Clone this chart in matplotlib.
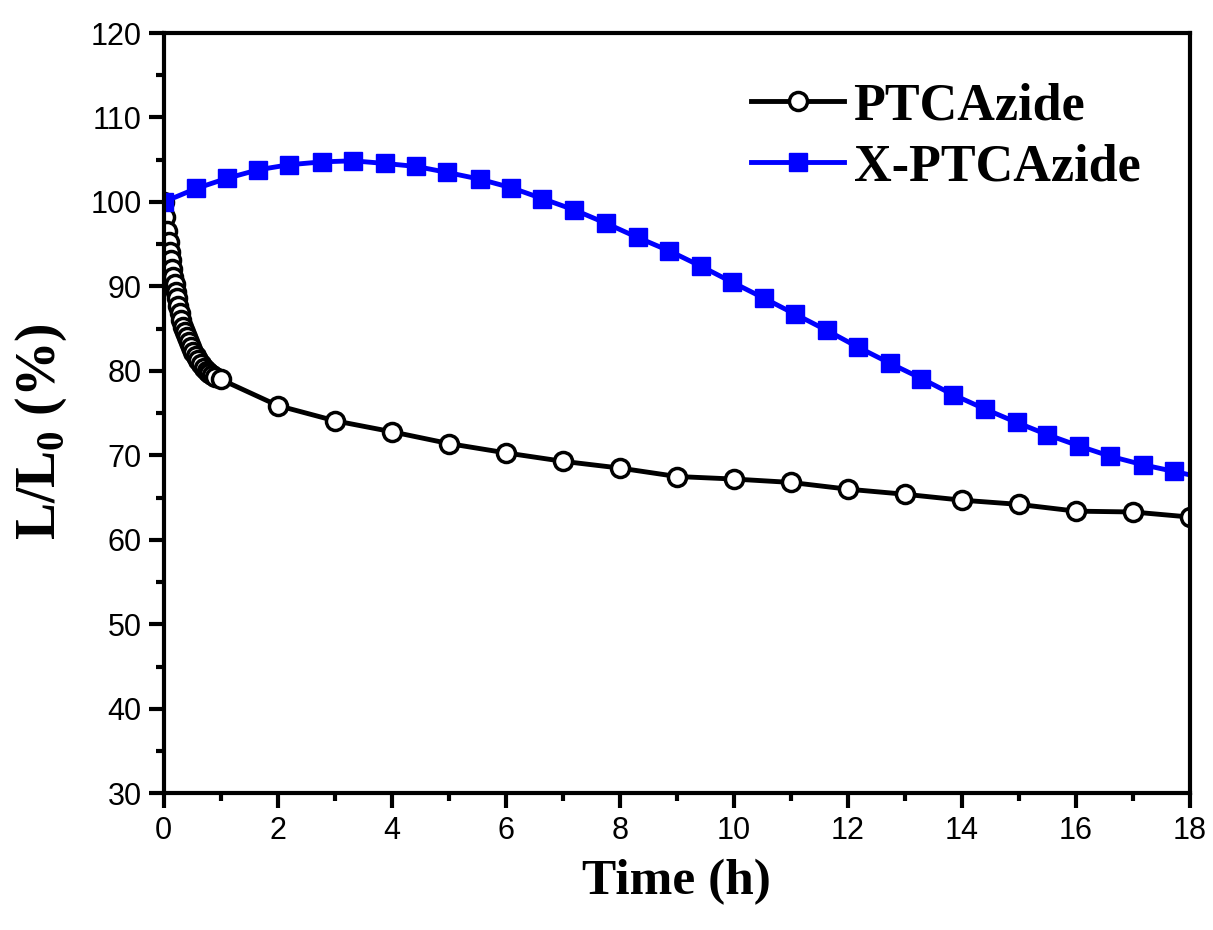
import matplotlib
matplotlib.use('Agg')
import matplotlib.pyplot as plt
from matplotlib.ticker import MultipleLocator

# PTCAzide (open circles) - dense sampling in the first hour
ptc_t = [0.0, 0.03, 0.06, 0.09, 0.11, 0.13, 0.15, 0.17, 0.19, 0.21, 0.23, 0.25,
         0.28, 0.31, 0.34, 0.37, 0.40, 0.44, 0.48, 0.52, 0.56, 0.60, 0.65, 0.70,
         0.75, 0.80, 0.85, 0.90, 1.0,
         2, 3, 4, 5, 6, 7, 8, 9, 10, 11, 12, 13, 14, 15, 16, 17, 18]
ptc_v = [100.0, 98.2, 96.6, 95.3, 94.1, 93.1, 92.1, 91.1, 90.3, 89.3, 88.6, 87.7,
         86.8, 86.0, 85.2, 84.6, 84.0, 83.4, 82.8, 82.2, 81.8, 81.3, 80.8, 80.4,
         80.0, 79.7, 79.5, 79.3, 79.0,
         75.9, 74.1, 72.8, 71.4, 70.3, 69.3, 68.5, 67.5, 67.2, 66.8, 66.0, 65.4,
         64.7, 64.2, 63.4, 63.3, 62.7]

# X-PTCAzide (filled squares)
xptc_t = [0.0, 0.57, 1.11, 1.65, 2.19, 2.78, 3.32, 3.88, 4.43, 4.97, 5.54, 6.09,
          6.64, 7.2, 7.75, 8.31, 8.87, 9.42, 9.97, 10.53, 11.08, 11.63, 12.18,
          12.74, 13.29, 13.84, 14.4, 14.96, 15.5, 16.06, 16.6, 17.17, 17.72, 18.27]
xptc_v = [100.0, 101.6, 102.8, 103.8, 104.4, 104.75, 104.87, 104.56, 104.2, 103.5,
          102.7, 101.7, 100.4, 99.06, 97.5, 95.8, 94.2, 92.4, 90.5, 88.6, 86.7,
          84.8, 82.8, 80.9, 79.1, 77.2, 75.5, 73.9, 72.45, 71.1, 69.9, 68.9, 68.1,
          67.3]

fig = plt.figure(figsize=(12.13, 9.30), dpi=100)
ax = fig.add_axes([0.135, 0.147, 0.846, 0.8175])

ax.plot(ptc_t, ptc_v, color='black', lw=3.5, marker='o', ms=13,
        mfc='white', mec='black', mew=2.5, label='PTCAzide')
ax.plot(xptc_t, xptc_v, color='#0000ff', lw=3.5, marker='s', ms=13,
        mfc='#0000ff', mec='#0000ff', label='X-PTCAzide')

ax.set_xlim(0, 18)
ax.set_ylim(30, 120)
ax.xaxis.set_major_locator(MultipleLocator(2))
ax.xaxis.set_minor_locator(MultipleLocator(1))
ax.yaxis.set_major_locator(MultipleLocator(10))
ax.yaxis.set_minor_locator(MultipleLocator(5))

for s in ax.spines.values():
    s.set_linewidth(3)
ax.tick_params(which='both', direction='out', width=3, top=False, right=False)
ax.tick_params(which='major', length=11, pad=5, labelsize=22)
ax.tick_params(which='minor', length=6)
for lab in ax.get_xticklabels() + ax.get_yticklabels():
    lab.set_family('Liberation Sans')

ax.set_xlabel('Time (h)', family='Liberation Serif', weight='bold', fontsize=37, labelpad=10)
ax.set_ylabel(r'L/L$_{\mathregular{0}}$ (%)', family='Liberation Serif', weight='bold',
              fontsize=40)
ax.yaxis.set_label_coords(-0.092, 0.476)

leg = ax.legend(loc='upper left', bbox_to_anchor=(0.527, 0.997), frameon=False,
                numpoints=1, handlelength=1.78, handletextpad=0.18, labelspacing=0.25,
                prop={'family': 'Liberation Serif', 'weight': 'bold', 'size': 37.5})

fig.savefig('out.png', dpi=100, facecolor='white')
